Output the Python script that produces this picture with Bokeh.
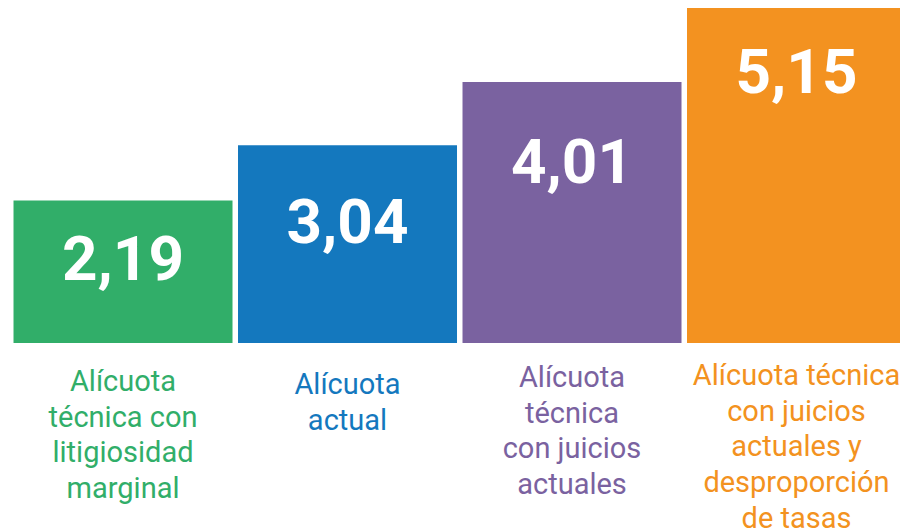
from bokeh.plotting import figure
from bokeh.models import ColumnDataSource, Range1d
from bokeh.core.properties import value
from bokeh.embed import file_html
from bokeh.resources import INLINE

categories = [
    "Alícuota\ntécnica con\nlitigiosidad\nmarginal",
    "Alícuota\nactual",
    "Alícuota\ntécnica\ncon juicios\nactuales",
    "Alícuota técnica\ncon juicios\nactuales y\ndesproporción\nde tasas",
]
values = [2.19, 3.04, 4.01, 5.15]
value_labels = ["2,19", "3,04", "4,01", "5,15"]
colors = ["#31AE69", "#1478BE", "#7A62A0", "#F39220"]

# style: pixel offsets of labels
value_offsets = [57, 76, 79, 63]
cat_offsets = [21, 24, 17, 15]

x = list(range(len(values)))
src = ColumnDataSource(dict(
    x=x, top=values, color=colors, vlab=value_labels, cat=categories,
    zero=[0] * len(values), voff=value_offsets, coff=cat_offsets,
))

p = figure(width=900, height=529, output_backend="svg", toolbar_location=None,
           x_range=Range1d(-0.5457, 3.4632), y_range=Range1d(-2.866, 5.2636),
           min_border=0)
p.axis.visible = False
p.grid.visible = False
p.outline_line_color = None
p.background_fill_color = "white"
p.border_fill_color = "white"

p.vbar(x="x", top="top", bottom=0, width=0.9755, fill_color="color",
       line_color=None, source=src)

p.text(x="x", y="top", text="vlab", y_offset="voff", text_align="center",
       text_baseline="middle", text_color="white", text_font=value("Roboto"),
       text_font_style="bold", text_font_size="62px", source=src)

p.text(x="x", y="zero", text="cat", y_offset="coff", text_align="center",
       text_baseline="top", text_color="color", text_font=value("Roboto"),
       text_font_size="29px", text_line_height=1.05, source=src)

open("out.html", "w").write(file_html(p, INLINE))
